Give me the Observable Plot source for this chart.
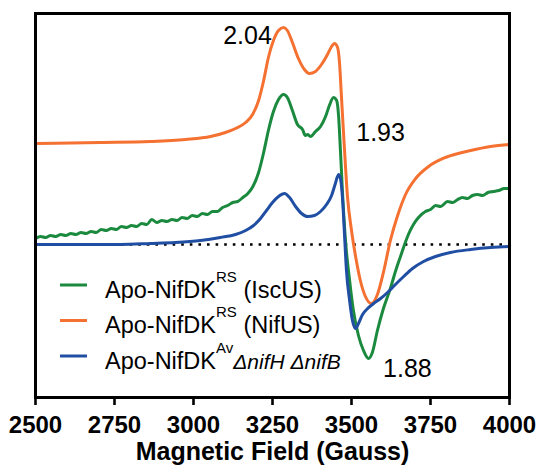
<!DOCTYPE html>
<html>
<head>
<meta charset="utf-8">
<script src="https://cdn.jsdelivr.net/npm/d3@7"></script>
<script src="https://cdn.jsdelivr.net/npm/@observablehq/plot@0.6"></script>
<style>
  body { margin: 0; background: #fff; }
  svg { font-family: "Liberation Sans", Arial, sans-serif; }
</style>
</head>
<body>
<div id="chart"></div>
<script>
// ---- data ----
const fieldTicks = [2500, 2750, 3000, 3250, 3500, 3750, 4000];
const axisTitle = "Magnetic Field (Gauss)";

const seriesNames = ["IscUS", "NifUS", "Av"];
const seriesColors = ["#1b8a3f", "#f47131", "#1f4ea3"];

// Apo-NifDK^RS (IscUS) - green (noisy trace)
const greenField = [2500,2516,2532,2548,2564,2580,2596,2612,2628,2644,2660,2676,2692,2708,2724,2740,2756,2772,2788,2804,2820,2836,2852,2868,2884,2900,2916,2932,2948,2964,2980,2996,3012,3028,3044,3060,3076,3092,3108,3124,3140,3156,3172,3188,3206,3222,3237,3253,3269,3285,3297,3313,3329,3345,3354,3361,3370,3386,3402,3418,3430,3443,3453,3459,3465,3472,3481,3494,3506,3522,3538,3554,3566,3582,3601,3623,3640,3655,3668,3680,3696,3712,3734,3750,3766,3782,3804,3820,3836,3851,3867,3883,3899,3915,3932,3949,3966,3983,4000];
const greenIntensity = [0.06,0.08,0.07,0.09,0.08,0.10,0.09,0.11,0.10,0.12,0.11,0.13,0.12,0.15,0.14,0.16,0.15,0.18,0.17,0.19,0.18,0.21,0.20,0.25,0.22,0.24,0.23,0.25,0.24,0.27,0.26,0.29,0.28,0.31,0.30,0.33,0.33,0.37,0.39,0.42,0.43,0.47,0.51,0.58,0.72,0.92,1.14,1.33,1.45,1.50,1.47,1.34,1.20,1.15,1.09,1.10,1.08,1.13,1.18,1.28,1.39,1.47,1.44,1.29,0.94,0.49,0.04,-0.36,-0.66,-0.91,-1.06,-1.14,-1.08,-0.86,-0.64,-0.44,-0.26,-0.12,0.00,0.10,0.20,0.27,0.33,0.35,0.39,0.38,0.43,0.42,0.45,0.47,0.46,0.49,0.50,0.49,0.52,0.53,0.54,0.56,0.56];

// Apo-NifDK^RS (NifUS) - orange
const orangeField = [2500,2706,2864,2975,3054,3101,3133,3165,3187,3206,3222,3237,3253,3269,3285,3297,3313,3332,3351,3367,3386,3405,3424,3437,3446,3456,3462,3468,3478,3487,3500,3513,3528,3544,3563,3582,3601,3623,3646,3671,3703,3744,3797,3877,3940,4000];
const orangeIntensity = [1.01,1.02,1.03,1.05,1.08,1.12,1.16,1.22,1.30,1.44,1.64,1.87,2.04,2.14,2.17,2.14,2.02,1.86,1.75,1.71,1.73,1.80,1.90,1.98,2.01,1.97,1.82,1.49,0.94,0.49,0.14,-0.12,-0.36,-0.52,-0.59,-0.50,-0.28,0.04,0.29,0.50,0.66,0.78,0.87,0.94,0.98,1.00];

// Apo-NifDK^Av ΔnifH ΔnifB - blue
const blueField = [2500,2642,2769,2864,2943,3022,3085,3133,3165,3190,3212,3231,3250,3269,3288,3304,3323,3342,3361,3383,3402,3421,3437,3449,3459,3465,3472,3478,3484,3494,3503,3513,3522,3535,3551,3570,3592,3614,3639,3665,3693,3728,3766,3813,3877,3940,4000];
const blueIntensity = [0.00,0.00,0.00,0.01,0.02,0.04,0.07,0.10,0.14,0.19,0.26,0.34,0.42,0.48,0.51,0.47,0.38,0.31,0.28,0.29,0.33,0.40,0.49,0.61,0.70,0.66,0.44,0.09,-0.26,-0.56,-0.76,-0.84,-0.79,-0.70,-0.64,-0.59,-0.54,-0.48,-0.40,-0.32,-0.24,-0.17,-0.12,-0.08,-0.05,-0.03,-0.02];

// g-value annotations
const gLabels = ["2.04", "1.93", "1.88"];
const gLabelField = [3171, 3592, 3677];
const gLabelIntensity = [2.09, 1.115, -1.24];

// legend
const legendMain = ["Apo-NifDK", "Apo-NifDK", "Apo-NifDK"];
const legendSup = ["RS", "RS", "Av"];
const legendRest = [" (IscUS)", " (NifUS)", "\u0394nifH \u0394nifB"];
const legendItalic = [false, false, true];

// ---- build table ----
const fields = [greenField, orangeField, blueField];
const values = [greenIntensity, orangeIntensity, blueIntensity];
const rows = seriesNames.flatMap((s, i) => fields[i].map((f, j) => ({series: s, field: f, value: values[i][j]})));
const labelRows = gLabels.map((t, i) => ({text: t, field: gLabelField[i], value: gLabelIntensity[i]}));

const plot = Plot.plot({
  width: 537,
  height: 470,
  marginLeft: 35,
  marginRight: 28,
  marginTop: 13,
  marginBottom: 73,
  style: {fontFamily: "Liberation Sans, Arial, sans-serif", background: "#fff", color: "#000"},
  x: {domain: [2500, 4000]},
  y: {domain: [-1.53, 2.31], axis: null},
  color: {domain: seriesNames, range: seriesColors},
  marks: [
    Plot.ruleY([0], {stroke: "#000", strokeWidth: 2.6, strokeDasharray: "2.6,6"}),
    Plot.line(rows, {x: "field", y: "value", z: "series", stroke: "series", strokeWidth: 3, curve: "monotone-x"}),
    Plot.frame({stroke: "#000", strokeWidth: 3}),
    Plot.axisX({ticks: fieldTicks, tickSize: 8, tickPadding: 10, tickFormat: d => String(d), fontSize: 24, fontWeight: "bold", strokeWidth: 2.6, label: null}),
    Plot.text([axisTitle], {frameAnchor: "bottom", dy: 62, fontSize: 25, fontWeight: "bold", fill: "#000"}),
    Plot.text(labelRows, {x: "field", y: "value", text: "text", fontSize: 25, fill: "#000"})
  ]
});

const svg = d3.select(plot);
svg.selectAll('g[aria-label="x-axis tick label"] text')
   .style("font-size", "24px").style("font-weight", "bold");

// legend drawn inside the frame
const leg = svg.append("g")
  .attr("font-family", "Liberation Sans, Arial, sans-serif")
  .attr("font-size", 23.5)
  .attr("text-anchor", "start");
seriesNames.forEach((s, i) => {
  const y = 285 + i * 35.5;
  leg.append("line").attr("x1", 60).attr("x2", 87).attr("y1", y).attr("y2", y)
     .attr("stroke", seriesColors[i]).attr("stroke-width", 3);
  const t = leg.append("text").attr("x", 105).attr("y", y + 12.5).attr("fill", "#000");
  t.append("tspan").text(legendMain[i]);
  t.append("tspan").attr("font-size", 15).attr("dy", -16).text(legendSup[i]);
  const r = t.append("tspan").attr("dy", 16).text(legendRest[i]);
  if (legendItalic[i]) r.attr("font-style", "italic").attr("font-size", 21);
});

document.getElementById("chart").appendChild(plot);
</script>
</body>
</html>
